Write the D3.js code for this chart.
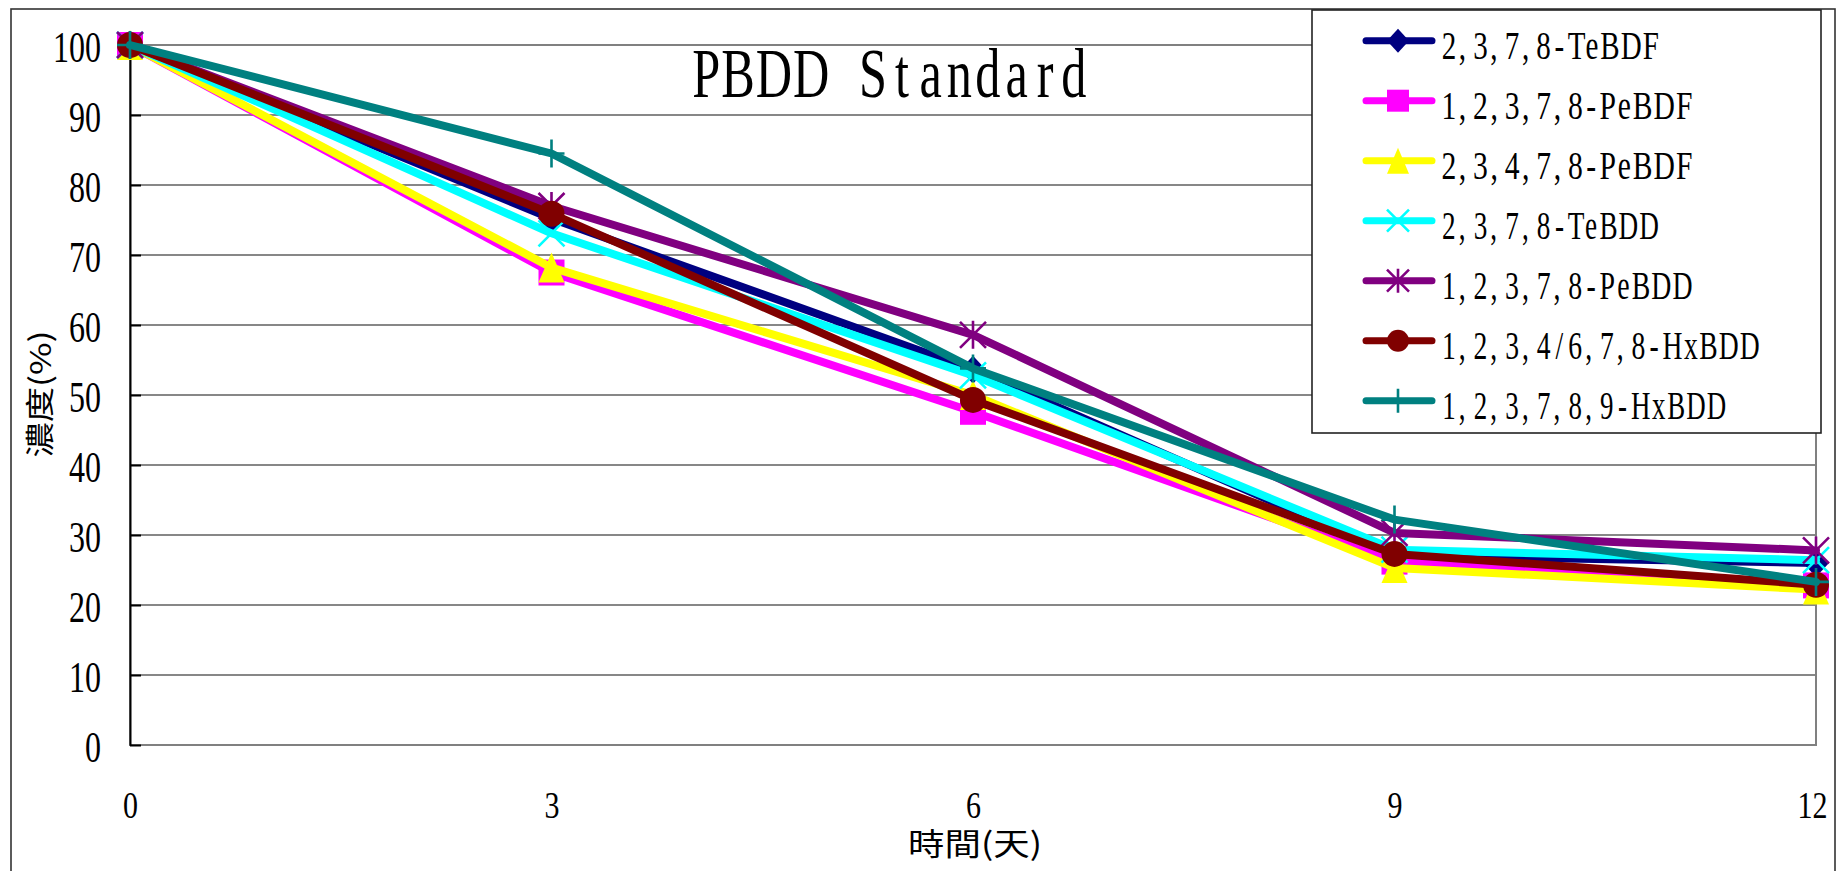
<!DOCTYPE html>
<html>
<head>
<meta charset="utf-8">
<script src="https://cdn.jsdelivr.net/npm/d3@7"></script>
<style>
  html, body { margin: 0; padding: 0; background: #fff; }
  svg { display: block; }
  .latin { font-family: "Liberation Serif", "DejaVu Serif", serif; fill: #000; }
  .cjk { font-family: "Noto Sans CJK TC", "Noto Sans CJK SC", sans-serif; fill: #000; }
</style>
</head>
<body>
<svg id="chart" width="1836" height="871"></svg>
<script>
// Sampling days and tick labels
const days = [0, 3, 6, 9, 12];
const yTicks = [0, 10, 20, 30, 40, 50, 60, 70, 80, 90, 100];

// Series names, colours, marker kinds
const seriesNames = [
  "2,3,7,8-TeBDF",
  "1,2,3,7,8-PeBDF",
  "2,3,4,7,8-PeBDF",
  "2,3,7,8-TeBDD",
  "1,2,3,7,8-PeBDD",
  "1,2,3,4/6,7,8-HxBDD",
  "1,2,3,7,8,9-HxBDD"
];
const seriesColors = ["#000080", "#FF00FF", "#FFFF00", "#00FFFF", "#800080", "#800000", "#008080"];
const seriesMarkers = ["diamond", "square", "triangle", "x", "star", "circle", "plus"];

// Remaining concentration (%) per series on each sampling day
const teBDF2378   = [100, 75.2, 53.6, 27.1, 26.0];
const peBDF12378  = [100, 67.5, 47.6, 26.2, 22.8];
const peBDF23478  = [100, 68.2, 50.0, 25.3, 22.2];
const teBDD2378   = [100, 73.1, 52.8, 27.9, 26.4];
const peBDD12378  = [100, 77.0, 58.6, 30.3, 27.8];
const hxBDD123478 = [100, 75.9, 49.3, 27.3, 22.9];
const hxBDD123789 = [100, 84.5, 53.8, 32.2, 23.3];
const seriesValues = [teBDF2378, peBDF12378, peBDF23478, teBDD2378, peBDD12378, hxBDD123478, hxBDD123789];

const titleText = "PBDD Standard";
const xTitle = "時間(天)";
const yTitle = "濃度(%)";

const svg = d3.select("#chart");

const plot = { left: 130, top: 45, right: 1816, bottom: 745 };
const x = d3.scaleLinear().domain([0, 12]).range([plot.left, plot.right]);
const y = d3.scaleLinear().domain([0, 100]).range([plot.bottom, plot.top]);

// Narrow look for numeric labels
function squeeze(sel, pitch) {
  sel.each(function () {
    const t = d3.select(this);
    const s = t.text();
    t.attr("textLength", s.length * pitch).attr("lengthAdjust", "spacingAndGlyphs");
  });
}

// Near fixed-pitch layout in one text element: glyphs are narrowed by a
// horizontal scale, each gets a cell at least ~pitch wide, and the whole
// string spans n * pitch.
function mono(t, x0, pitch, anchor) {
  const s = t.text();
  const n = s.length;
  const total = n * pitch;
  const start = anchor === "end" ? x0 - total
              : anchor === "middle" ? x0 - total / 2 : x0;
  const node = t.node();
  const widths = [];
  for (let i = 0; i < n; i++) widths.push(node.getSubStringLength(i, 1));
  const p0 = pitch * 0.94;
  const cellsFor = sx => widths.map((w, i) => s[i] === " " ? p0 : Math.max(w * sx + 1, p0));
  const sum = a => a.reduce((u, v) => u + v, 0);
  let lo = 0.4, hi = 0.85;
  for (let k = 0; k < 30; k++) {
    const mid = (lo + hi) / 2;
    if (sum(cellsFor(mid)) <= total) lo = mid; else hi = mid;
  }
  const sx = lo;
  const cells = cellsFor(sx);
  const extra = (total - sum(cells)) / n;
  let cx = start;
  const xs = [];
  for (let i = 0; i < n; i++) {
    const c = cells[i] + extra;
    const gw = widths[i] * sx;
    const ch = s[i];
    const gx = (ch === "," || ch === ".") ? cx + 2 : cx + (c - gw) / 2;
    xs.push(gx / sx);
    cx += c;
  }
  t.attr("text-anchor", "start")
    .attr("transform", `scale(${sx},1)`)
    .attr("x", xs.map(v => v.toFixed(2)).join(" "));
}

// Marker path generator centred on (0,0)
function markerPath(kind, s) {
  const h = s / 2;
  switch (kind) {
    case "diamond":  return `M0,${-h - 1}L${h},0L0,${h + 1}L${-h},0Z`;
    case "square":   return `M${-h},${-h}H${h}V${h}H${-h}Z`;
    case "triangle": return `M0,${-h - 2}L${h},${h + 2}H${-h}Z`;
    case "circle":   return `M${-h},0A${h},${h} 0 1,0 ${h},0A${h},${h} 0 1,0 ${-h},0Z`;
    case "x":        return `M${-h},${-h}L${h},${h}M${h},${-h}L${-h},${h}`;
    case "star":     return `M${-h},${-h}L${h},${h}M${h},${-h}L${-h},${h}M0,${-h - 1}V${h + 1}`;
    case "plus":     return `M${-h},0H${h}M0,${-h - 1}V${h + 1}`;
  }
}
const filledKinds = new Set(["diamond", "square", "triangle", "circle"]);

function drawMarker(g, kind, color, s) {
  const p = g.append("path").attr("d", markerPath(kind, s));
  if (filledKinds.has(kind)) p.attr("fill", color).attr("stroke", "none");
  else p.attr("fill", "none").attr("stroke", color).attr("stroke-width", 2.6);
}

// Outer chart border
svg.append("rect")
  .attr("x", 11).attr("y", 9).attr("width", 1824).attr("height", 900)
  .attr("fill", "none").attr("stroke", "#333").attr("stroke-width", 1.6);

// Horizontal gridlines
svg.append("g").selectAll("line")
  .data(yTicks.filter(v => v > 0 && v < 100))
  .join("line")
  .attr("x1", plot.left).attr("x2", plot.right)
  .attr("y1", d => y(d)).attr("y2", d => y(d))
  .attr("stroke", "#111").attr("stroke-width", 1.2);

// Plot area frame
svg.append("rect")
  .attr("x", plot.left).attr("y", plot.top)
  .attr("width", plot.right - plot.left).attr("height", plot.bottom - plot.top)
  .attr("fill", "none").attr("stroke", "#808080").attr("stroke-width", 2);

// Y axis
const yAxis = svg.append("g")
  .attr("transform", `translate(${plot.left},0)`)
  .call(d3.axisLeft(y).tickValues(yTicks).tickSizeInner(-11).tickSizeOuter(0));
yAxis.select(".domain").attr("stroke", "#000").attr("stroke-width", 2);
yAxis.selectAll(".tick line").attr("stroke", "#000").attr("stroke-width", 2);
yAxis.selectAll(".tick text")
  .attr("class", "latin")
  .style("font-size", "44px")
  .attr("x", -29).attr("dy", null).attr("y", 16)
  .attr("text-anchor", "end")
  .call(squeeze, 16);
yAxis.attr("font-family", null).attr("font-size", null);

// X axis
const xAxis = svg.append("g")
  .attr("transform", `translate(0,${plot.bottom})`)
  .call(d3.axisBottom(x).tickValues(days).tickSize(0).tickFormat(d3.format("d")));
xAxis.select(".domain").remove();
xAxis.selectAll(".tick text")
  .attr("class", "latin")
  .style("font-size", "38px")
  .attr("dy", null).attr("y", 73)
  .attr("text-anchor", "middle")
  .call(squeeze, 15);
xAxis.attr("font-family", null).attr("font-size", null);
// keep the last label inside the outer frame
xAxis.selectAll(".tick").filter(d => d === 12).select("text").attr("x", -4);

// Series lines and markers
const line = d3.line().x((d, i) => x(days[i])).y(d => y(d));
seriesValues.forEach((vals, si) => {
  const g = svg.append("g");
  g.append("path")
    .attr("d", line(vals))
    .attr("fill", "none")
    .attr("stroke", seriesColors[si])
    .attr("stroke-width", 8)
    .attr("stroke-linejoin", "round")
    .attr("stroke-linecap", "round");
  vals.forEach((v, i) => {
    const mg = g.append("g").attr("transform", `translate(${x(days[i])},${y(v)})`);
    drawMarker(mg, seriesMarkers[si], seriesColors[si], 26);
  });
});

// Title
const title = svg.append("text")
  .attr("class", "latin")
  .attr("y", 97)
  .style("font-size", "70px")
  .text(titleText);
mono(title, 890, 30.5, "middle");

// Axis titles
svg.append("text")
  .attr("class", "cjk")
  .attr("x", 975).attr("y", 841)
  .attr("text-anchor", "middle")
  .attr("dominant-baseline", "central")
  .style("font-size", "31px")
  .text(xTitle)
  .attr("textLength", 134).attr("lengthAdjust", "spacingAndGlyphs");

svg.append("text")
  .attr("class", "cjk")
  .attr("transform", "translate(38,394) rotate(-90)")
  .attr("text-anchor", "middle")
  .attr("dominant-baseline", "central")
  .style("font-size", "29px")
  .text(yTitle)
  .attr("textLength", 127).attr("lengthAdjust", "spacingAndGlyphs");

// Legend
const legend = svg.append("g");
legend.append("rect")
  .attr("x", 1312).attr("y", 10).attr("width", 509).attr("height", 423)
  .attr("fill", "#fff").attr("stroke", "#222").attr("stroke-width", 1.6);

seriesNames.forEach((name, i) => {
  const cy = 40.7 + i * 60;
  const row = legend.append("g").attr("transform", `translate(0,${cy})`);
  row.append("line")
    .attr("x1", 1366).attr("x2", 1432).attr("y1", 0).attr("y2", 0)
    .attr("stroke", seriesColors[i]).attr("stroke-width", 7)
    .attr("stroke-linecap", "round");
  const mg = row.append("g").attr("transform", "translate(1398,0)");
  drawMarker(mg, seriesMarkers[i], seriesColors[i], 22);
  const t = row.append("text")
    .attr("class", "latin")
    .attr("y", 18.5)
    .style("font-size", "41px")
    .text(name);
  mono(t, 1441, 16.8, "start");
});
</script>
</body>
</html>
